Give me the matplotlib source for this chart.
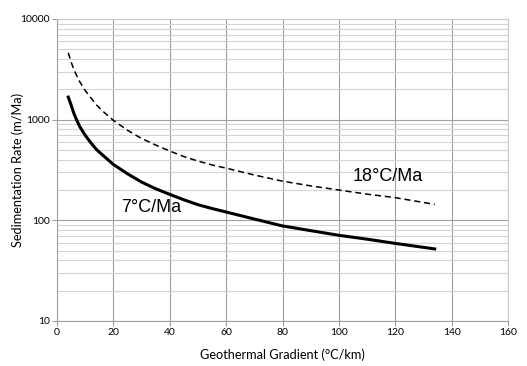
import numpy as np
import matplotlib.pyplot as plt
from matplotlib.ticker import LogLocator, NullFormatter, FixedLocator

# Data
gradient_7 = [4, 5, 6, 7, 8, 9, 10, 12, 14, 17, 20, 25, 30, 35, 40, 45, 50, 55, 60, 70, 80, 90, 100, 110, 120, 134]
rate_7 = [1675, 1400, 1150, 990, 860, 775, 700, 590, 505, 425, 359, 290, 240, 206, 181, 160, 143, 131, 121,
          103, 88, 79, 71, 65, 59, 52]

gradient_18 = [4, 5, 6, 7, 8, 10, 12, 14, 16, 20, 25, 30, 35, 40, 45, 50, 55, 60, 70, 80, 90, 100, 110, 120, 134]
rate_18 = [4620, 3750, 3150, 2730, 2400, 1950, 1650, 1400, 1230, 984, 785, 650, 560, 488, 430, 388, 355, 330,
           282, 245, 220, 200, 182, 168, 144]

x_ticks = [0, 20, 40, 60, 80, 100, 120, 140, 160]
y_ticks = [10, 100, 1000, 10000]

plt.rcParams['font.family'] = ['Lato', 'DejaVu Sans']

fig = plt.figure(figsize=(5.27, 3.66), dpi=100)
ax = fig.add_axes([57 / 527, 1 - 321 / 366, 451 / 527, 302 / 366])

ax.plot(gradient_7, rate_7, color='black', linewidth=2.2, solid_joinstyle='round', zorder=3)
ax.plot(gradient_18, rate_18, color='black', linewidth=1.1, linestyle=(0, (4, 2.5)), zorder=3)

ax.set_yscale('log')
ax.set_xlim(0, 160)
ax.set_ylim(10, 10000)
ax.xaxis.set_major_locator(FixedLocator(x_ticks))
ax.yaxis.set_major_locator(FixedLocator(y_ticks))
ax.set_yticklabels([str(v) for v in y_ticks])
ax.yaxis.set_minor_locator(LogLocator(base=10, subs=np.arange(2, 10)))
ax.yaxis.set_minor_formatter(NullFormatter())

ax.grid(True, which='major', axis='both', color='#a0a0a0', linewidth=0.8)
ax.grid(True, which='minor', axis='y', color='#d4d4d4', linewidth=0.8)
ax.set_axisbelow(True)

for s in ax.spines.values():
    s.set_color('#c8c8c8')
    s.set_linewidth(0.8)
ax.spines['left'].set_color('#a0a0a0')
ax.spines['bottom'].set_color('#a0a0a0')

ax.tick_params(axis='both', which='major', length=3.5, color='#a0a0a0', labelsize=7.5, pad=1.5)
ax.tick_params(axis='y', which='minor', length=0)

ax.set_xlabel('Geothermal Gradient (°C/km)', fontsize=9.2, labelpad=8)
ax.set_ylabel('Sedimentation Rate (m/Ma)', fontsize=9.2)
ax.yaxis.set_label_coords(-0.073, 0.5)

ax.text(22.6, 135, '7°C/Ma', fontsize=13, family=['Liberation Sans'], va='center', ha='left')
ax.text(104.8, 275, '18°C/Ma', fontsize=13, family=['Liberation Sans'], va='center', ha='left')

fig.savefig('out.png', dpi=100)
